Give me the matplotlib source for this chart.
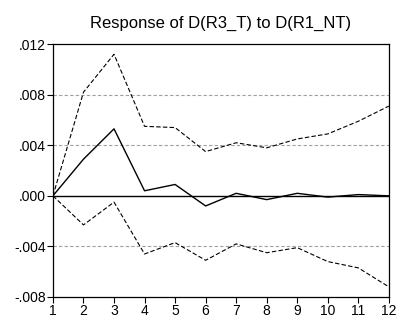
import matplotlib
matplotlib.use("Agg")
import matplotlib.pyplot as plt

plt.rcParams['font.family'] = ['Liberation Sans', 'DejaVu Sans']

periods = list(range(1, 13))
response = [0.0, 0.0029, 0.0053, 0.0004, 0.0009, -0.0008, 0.0002, -0.0003, 0.0002, -0.0001, 0.0001, 0.0]
upper = [0.0, 0.0082, 0.0112, 0.0055, 0.0054, 0.0035, 0.0042, 0.0038, 0.0045, 0.0049, 0.0059, 0.0071]
lower = [0.0, -0.0023, -0.0005, -0.0046, -0.0037, -0.0051, -0.0038, -0.0045, -0.0041, -0.0052, -0.0057, -0.0072]
yticks = [-0.008, -0.004, 0.0, 0.004, 0.008, 0.012]
ylabels = ['-.008', '-.004', '.000', '.004', '.008', '.012']

fig = plt.figure(figsize=(3.98, 3.2), dpi=100)
ax = fig.add_axes([0.133, 0.072, 0.844, 0.79])

for g in [-0.004, 0.004, 0.008]:
    ax.axhline(g, color='#a0a0a0', linestyle=(0, (3, 2)), linewidth=0.8, zorder=1)
ax.axhline(0, color='black', linewidth=1.0, zorder=2)

ax.plot(periods, response, color='black', linewidth=1.0, zorder=3)
ax.plot(periods, upper, color='black', linewidth=0.8, linestyle=(0, (4, 2)), zorder=3)
ax.plot(periods, lower, color='black', linewidth=0.8, linestyle=(0, (4, 2)), zorder=3)

ax.set_xlim(1, 12)
ax.set_ylim(-0.008, 0.012)
ax.set_xticks(periods)
ax.set_yticks(yticks)
ax.set_yticklabels(ylabels)
ax.tick_params(direction='out', length=4, width=0.8, labelsize=10, pad=1)
for s in ax.spines.values():
    s.set_linewidth(0.9)
ax.set_title('Response of D(R3_T) to D(R1_NT)', fontsize=12, pad=12)

fig.savefig('out.png', dpi=100)
